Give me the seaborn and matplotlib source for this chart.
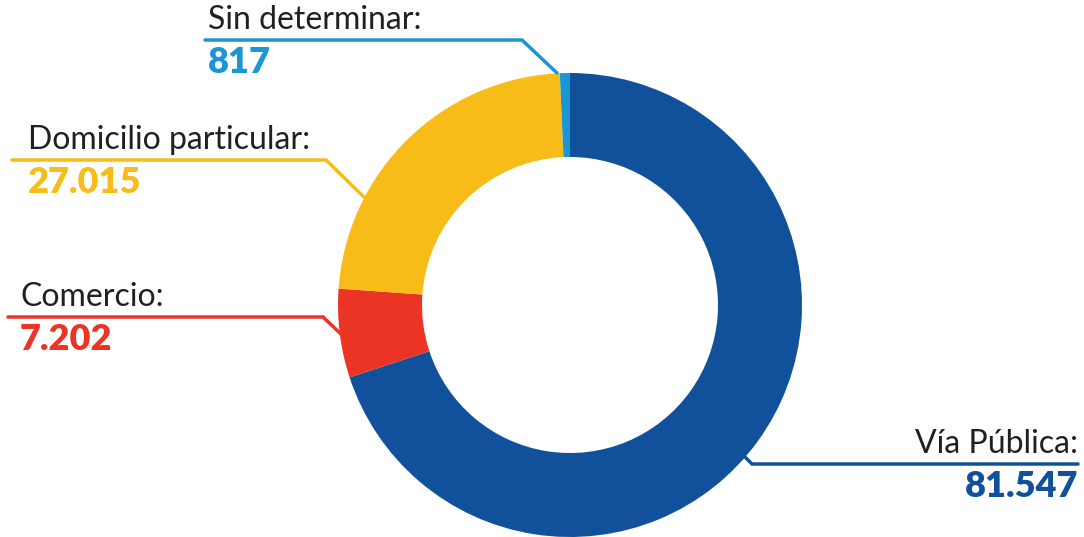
import matplotlib
matplotlib.use("Agg")
import matplotlib.pyplot as plt
import seaborn as sns
import numpy as np

# ------------------------------------------------------------------------------
# Data
categories = ["Vía Pública", "Comercio", "Domicilio particular", "Sin determinar"]
values = [81547, 7202, 27015, 817]
value_labels = ["81.547", "7.202", "27.015", "817"]
colors = ["#11519B", "#EB3424", "#F8BC19", "#1A96D4"]

sns.set_theme(style="white")
plt.rcParams["font.family"] = ["Lato", "Roboto", "DejaVu Sans"]

fig = plt.figure(figsize=(10.84, 5.37), dpi=100)
ax = fig.add_axes([0, 0, 1, 1])

# donut, centre and radius in pixel-like coordinates (y up)
cx, cy, R = 570, 232, 232
wedges, _ = ax.pie(values, colors=colors, startangle=90, counterclock=False,
                   center=(cx, cy), radius=R, frame=True,
                   wedgeprops=dict(width=84, linewidth=0))
ax.set_xlim(0, 1084)
ax.set_ylim(0, 537)
ax.set_aspect("equal")
ax.axis("off")

# ------------------------------------------------------------------------------
# Leader lines + labels (layout: line y, line x range, anchor on ring, alignment)
layout = {
    "Vía Pública":          dict(ly=73,  x0=1078, x1=752, end=(745, 80),  ha="right"),
    "Comercio":             dict(ly=220, x0=8,    x1=323, end=(342, 202), ha="left"),
    "Domicilio particular": dict(ly=377, x0=12,   x1=326, end=(367, 337), ha="left"),
    "Sin determinar":       dict(ly=497, x0=205,  x1=522, end=(557, 464), ha="left"),
}
text_x = {"Vía Pública": 1078, "Comercio": 20, "Domicilio particular": 28, "Sin determinar": 208}

for cat, val, col in zip(categories, value_labels, colors):
    L = layout[cat]
    ax.plot([L["x0"], L["x1"], L["end"][0]], [L["ly"], L["ly"], L["end"][1]],
            color=col, lw=2.5, solid_joinstyle="miter")
    tx = text_x[cat]
    ax.text(tx, L["ly"] + 5, cat + ":", ha=L["ha"], va="bottom",
            fontsize=23, color="#231F20")
    ax.text(tx, L["ly"] - 6, val, ha=L["ha"], va="top",
            fontsize=26, fontweight="heavy", color=col)

fig.savefig("out.png", dpi=100)
